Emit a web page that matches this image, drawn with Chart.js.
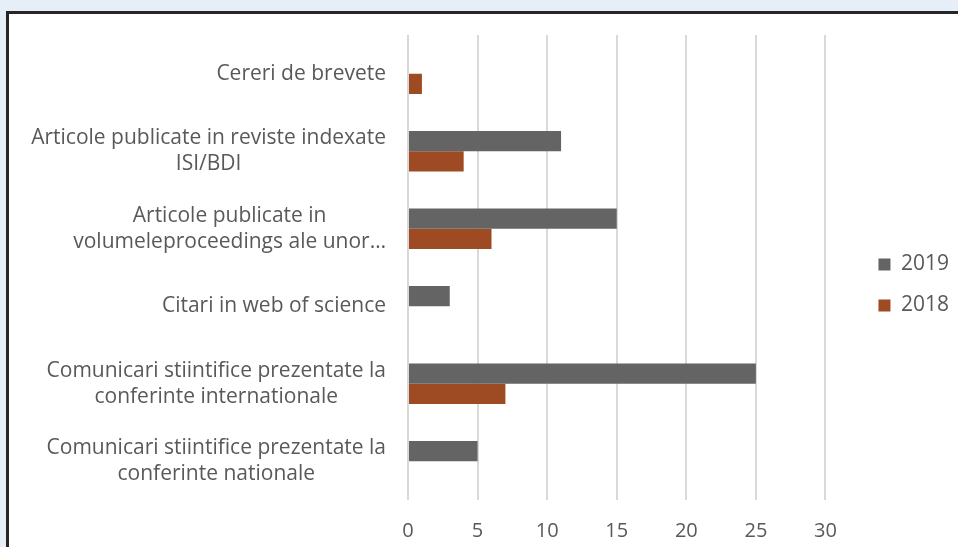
<!DOCTYPE html>
<html lang="ro">
<head>
<meta charset="utf-8">
<script src="https://cdn.jsdelivr.net/npm/chart.js@4"></script>
<style>
  body { margin: 0; background: #e6eef7; width: 958px; height: 547px; overflow: hidden; }
  #cadru {
    position: absolute; left: 6px; top: 11px;
    width: 975px; height: 560px;
    border: 3px solid #262626; background: #fff;
  }
  #zona { position: absolute; left: 0; top: 0; width: 960px; height: 533px; }
</style>
</head>
<body>
<div id="cadru">
  <div id="zona"><canvas id="canva"></canvas></div>
</div>
<script>
// Date
const categorii = [
  ["Cereri de brevete"],
  ["Articole publicate in reviste indexate", "ISI/BDI"],
  ["Articole publicate in", "volumeleproceedings ale unor\u2026"],
  ["Citari in web of science"],
  ["Comunicari stiintifice prezentate la", "conferinte internationale"],
  ["Comunicari stiintifice prezentate la", "conferinte nationale"]
];
const valori2019 = [0, 11, 15, 3, 25, 5];
const valori2018 = [1, 4, 6, 0, 7, 0];
const ticksX = [0, 5, 10, 15, 20, 25, 30];

const culoareText = "#595959";
const font = "'Open Sans', sans-serif";

// eticheta fiecarei categorii: bloc aliniat la dreapta, randuri centrate
const eticheteY = {
  id: "eticheteY",
  afterDraw(chart) {
    const ctx = chart.ctx;
    const sc = chart.scales.y;
    ctx.save();
    ctx.font = "21px " + font;
    ctx.fillStyle = culoareText;
    ctx.textAlign = "center";
    ctx.textBaseline = "middle";
    categorii.forEach((randuri, i) => {
      const yc = sc.getPixelForTick(i);
      let lat = 0;
      randuri.forEach(r => { lat = Math.max(lat, ctx.measureText(r).width); });
      const xc = sc.right - 22 - lat / 2;
      const h = 26;
      randuri.forEach((r, k) => {
        ctx.fillText(r, xc, yc + (k - (randuri.length - 1) / 2) * h);
      });
    });
    ctx.restore();
  }
};

// legenda putin mai sus, ca in original
const mutaLegenda = {
  id: "mutaLegenda",
  afterLayout(chart) {
    chart.legend.top -= 6;
    chart.legend.bottom -= 6;
  }
};

new Chart(document.getElementById("canva"), {
  type: "bar",
  data: {
    labels: categorii,
    datasets: [
      { label: "2019", data: valori2019, backgroundColor: "#646464", yAxisID: "y" },
      { label: "2018", data: valori2018, backgroundColor: "#9e4a22", yAxisID: "y" }
    ]
  },
  options: {
    indexAxis: "y",
    responsive: true,
    maintainAspectRatio: false,
    animation: false,
    layout: { padding: { top: 21, right: 10, left: 0, bottom: 0 } },
    datasets: { bar: { categoryPercentage: 0.52, barPercentage: 1 } },
    scales: {
      x: {
        min: 0, max: 30,
        afterBuildTicks(s) { s.ticks = ticksX.map(v => ({ value: v })); },
        afterFit(s) { s.height = 47; },
        border: { display: false },
        grid: { color: "#d9d9d9", lineWidth: 2, drawTicks: false },
        ticks: { color: culoareText, font: { family: font, size: 20 }, padding: 19 }
      },
      y: {
        afterFit(s) { s.width = 399; },
        border: { display: false },
        grid: { display: false },
        ticks: { display: false }
      },
      spatiu: {
        type: "category",
        position: "right",
        axis: "y",
        afterFit(s) { s.width = 33; },
        border: { display: false },
        grid: { display: false },
        ticks: { display: false }
      }
    },
    plugins: {
      legend: {
        position: "right",
        labels: {
          color: culoareText,
          font: { family: font, size: 21 },
          boxWidth: 12, boxHeight: 12,
          padding: 20
        }
      },
      tooltip: { enabled: false }
    }
  },
  plugins: [eticheteY, mutaLegenda]
});
</script>
</body>
</html>
